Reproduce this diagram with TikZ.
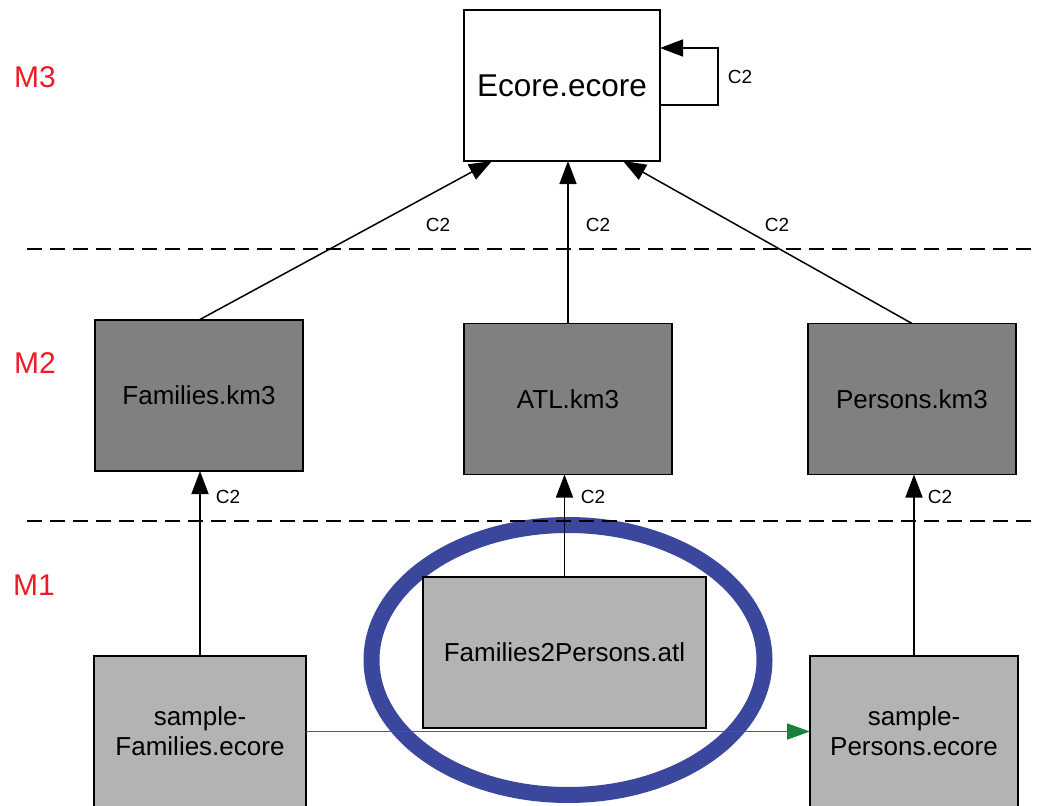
\documentclass[tikz,border=0pt]{standalone}
\usepackage{fontspec}
\setmainfont{Liberation Sans}
\usetikzlibrary{arrows.meta,calc}
\definecolor{boxdark}{HTML}{808080}
\definecolor{boxlight}{HTML}{B3B3B3}
\definecolor{ringblue}{HTML}{3B479D}
\definecolor{flowgreen}{HTML}{17823C}
\definecolor{levelred}{HTML}{ED1C24}
\begin{document}
\begin{tikzpicture}[x=1pt,y=-1pt,
  box/.style={draw=black, line width=1.5pt, inner sep=0pt, outer sep=0pt, align=center,
    font=\fontsize{26}{30}\selectfont},
  darkbox/.style={box, fill=boxdark, minimum width=208pt, minimum height=151pt},
  lightbox/.style={box, fill=boxlight, minimum height=151pt},
  conn/.style={draw=black, line width=1.5pt, -{Triangle[length=23pt,width=17pt]}},
  flow/.style={draw=flowgreen, line width=1.7pt, -{Triangle[length=23pt,width=16pt]}},
  sep/.style={draw=black, line width=1.5pt, dash pattern=on 15pt off 8pt},
  lvl/.style={text=levelred, font=\fontsize{30}{34}\selectfont, inner sep=0pt},
  clab/.style={font=\fontsize{19}{22}\selectfont, inner sep=0pt}
]
\useasboundingbox (0,0) rectangle (1037,806);
\clip (0,0) rectangle (1037,806);
\fill[white] (0,0) rectangle (1037,806);

% highlight ring
\draw[ringblue, line width=16pt] (568,660) ellipse [x radius=196.5pt, y radius=135pt];

% level separators
\draw[sep] (27,249) -- (1037,249);
\draw[sep] (27,521) -- (1037,521);

% level labels
\node[lvl] (m3) at (35,77) {M3};
\node[lvl] (m2) at (35,363) {M2};
\node[lvl] (m1) at (34,585) {M1};

% nodes
\node[box, fill=white, minimum width=196pt, minimum height=151pt,
  font=\fontsize{31.5}{36}\selectfont] (ecore) at (562,85.5) {Ecore.ecore};
\node[darkbox] (fam3) at (199,395.5) {Families.km3};
\node[darkbox] (atl3) at (568,399) {ATL.km3};
\node[darkbox] (per3) at (912,399) {Persons.km3};
\node[lightbox, minimum width=283pt] (f2p) at (564.5,652.5) {Families2Persons.atl};
\node[lightbox, minimum width=212pt] (sfam) at (200,731.5) {sample-\\Families.ecore};
\node[lightbox, minimum width=208pt] (sper) at (914,731.5) {sample-\\Persons.ecore};

% conformance connectors
\draw[conn] (fam3.north) -- ($(ecore.south west)+(28,0)$);
\draw[conn] (atl3.north) -- (atl3.north |- ecore.south);
\draw[conn] (per3.north) -- ($(ecore.south east)+(-37,0)$);
\draw[conn] ([yshift=-19.5pt]ecore.east) -- ++(58,0) |- ([yshift=37.5pt]ecore.east);
\draw[conn] (sfam.north) -- (sfam.north |- fam3.south);
\draw[conn] (f2p.north) -- (f2p.north |- atl3.south);
\draw[conn] (sper.north) -- (sper.north |- per3.south);

% transformation flow
\draw[flow] (sfam.east) -- (sper.west);

% connector labels
\node[clab] (c2loop) at (740,77) {C2};
\node[clab] (c2a) at (438,225) {C2};
\node[clab] (c2b) at (598,225) {C2};
\node[clab] (c2c) at (777,225) {C2};
\node[clab] (c2d) at (228,497) {C2};
\node[clab] (c2e) at (593,497) {C2};
\node[clab] (c2f) at (940,497) {C2};
\end{tikzpicture}
\end{document}
